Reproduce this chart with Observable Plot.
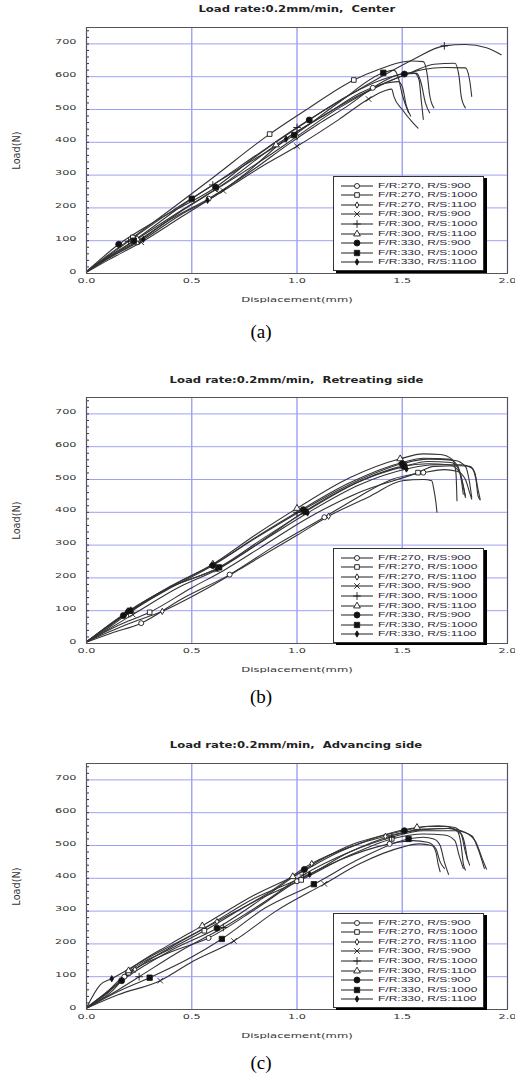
<!DOCTYPE html>
<html><head><meta charset="utf-8">
<script src="https://cdn.jsdelivr.net/npm/d3@7"></script>
<script src="https://cdn.jsdelivr.net/npm/@observablehq/plot@0.6"></script>
<style>
body{margin:0;background:#fff;}
#wrap{position:relative;width:515px;height:1077px;background:#fff;overflow:hidden;font-family:"DejaVu Sans",sans-serif;}
.title{position:absolute;left:86px;width:421px;text-align:center;font-family:"DejaVu Sans";font-weight:bold;font-size:8px;color:#222;line-height:10px;white-space:pre;}
.title span{display:inline-block;transform:scaleX(1.45);}
.cap{position:absolute;left:0;width:522px;text-align:center;font-family:"Liberation Serif";font-size:19px;color:#000;line-height:20px;}
.svgbox{position:absolute;left:0;}
.legend{position:absolute;left:333px;width:149px;height:93px;border:1px solid #333;background:#fff;box-shadow:3px 2px 0 #000;}
.row{position:absolute;left:0;width:149px;height:10px;}
.row svg{position:absolute;left:0;top:0;}
.row span{position:absolute;left:44px;top:0;font-family:"Liberation Sans";font-size:7.5px;white-space:nowrap;transform:scaleX(1.6);transform-origin:left center;color:#2a2636;line-height:10px;}
</style></head><body><div id="wrap"></div><script>
// ---------- ticks & labels ----------
const xTicks = [0, 0.5, 1.0, 1.5, 2.0];
const yTicks = [0, 100, 200, 300, 400, 500, 600, 700];
const yMinorTicks = [0,20,40,60,80,100,120,140,160,180,200,220,240,260,280,300,320,340,360,380,400,420,440,460,480,500,520,540,560,580,600,620,640,660,680,700,720,740];
const xAxisLabel = "Displacement(mm)";
const yAxisLabel = "Load(N)";
const legendLabels = ["F/R:270, R/S:900","F/R:270, R/S:1000","F/R:270, R/S:1100","F/R:300, R/S:900","F/R:300, R/S:1000","F/R:300, R/S:1100","F/R:330, R/S:900","F/R:330, R/S:1000","F/R:330, R/S:1100"];
const panelTitles = ["Load rate:0.2mm/min,  Center","Load rate:0.2mm/min,  Retreating side","Load rate:0.2mm/min,  Advancing side"];
const panelCaptions = ["(a)","(b)","(c)"];

// ---------- data: [displacement mm, load N, marker flag] ----------
// (a) Center
const center_270_900  = [[0,5],[0.1,45],[0.24,95,1],[0.4,165],[0.58,228,1],[0.8,320],[0.95,390],[1.1,455],[1.25,515],[1.36,566,1],[1.45,598],[1.52,612],[1.57,610],[1.59,580],[1.61,520],[1.63,490]];
const center_270_1000 = [[0,6],[0.1,55],[0.22,110,1],[0.4,195],[0.6,292],[0.87,425,1],[1.05,502],[1.27,590,1],[1.4,625],[1.5,645],[1.55,648],[1.6,646],[1.62,600],[1.63,545],[1.65,505]];
const center_270_1100 = [[0,5],[0.1,48],[0.25,102,1],[0.45,190],[0.62,258,1],[0.85,352],[1.0,418,1],[1.2,505],[1.4,575],[1.55,615],[1.65,638],[1.75,641],[1.77,600],[1.78,540],[1.8,505]];
const center_300_900  = [[0,4],[0.1,40],[0.26,95,1],[0.45,172],[0.65,252,1],[0.85,333],[1.0,388,1],[1.2,470],[1.34,532,1],[1.42,558],[1.45,562],[1.46,540],[1.5,500],[1.55,460],[1.575,443]];
const center_300_1000 = [[0,5],[0.1,52],[0.2,98,1],[0.4,188],[0.6,270,1],[0.8,358],[1.0,445,1],[1.2,525],[1.4,600],[1.55,652],[1.7,694,1],[1.8,698],[1.9,688],[1.97,667]];
const center_300_1100 = [[0,6],[0.12,58],[0.24,105,1],[0.45,192],[0.65,272],[0.9,392,1],[1.1,472],[1.3,545],[1.45,590],[1.6,622],[1.7,628],[1.8,627],[1.82,590],[1.83,540]];
const center_330_900  = [[0,6],[0.153,89,1],[0.35,168],[0.614,263,1],[0.8,355],[1.058,468,1],[1.25,545],[1.4,590],[1.51,608,1],[1.56,610],[1.58,590],[1.59,530],[1.6,470]];
const center_330_1000 = [[0,5],[0.225,100,1],[0.5,228,1],[0.75,330],[0.987,422,1],[1.2,522],[1.41,612,1],[1.46,620],[1.48,600],[1.5,545],[1.53,490]];
const center_330_1100 = [[0,5],[0.1,45],[0.27,104,1],[0.45,180],[0.575,223,1],[0.75,302],[0.948,410,1],[1.15,490],[1.3,550],[1.42,580],[1.48,585],[1.5,570],[1.52,510],[1.54,480]];

// (b) Retreating side
const retreat_270_900  = [[0,4],[0.12,32],[0.26,62,1],[0.45,135],[0.68,210,1],[0.9,300],[1.13,385,1],[1.3,450],[1.45,500],[1.6,521,1],[1.7,530],[1.76,525],[1.8,500],[1.82,460],[1.83,440]];
const retreat_270_1000 = [[0,5],[0.15,55],[0.3,95,1],[0.5,170],[0.65,222],[0.85,302],[1.05,382],[1.3,462],[1.575,521,1],[1.65,540],[1.78,542],[1.82,540],[1.845,520],[1.86,470],[1.87,440]];
const retreat_270_1100 = [[0,5],[0.2,60],[0.36,98,1],[0.55,160],[0.75,235],[1.0,330],[1.15,388,1],[1.35,450],[1.5,496],[1.6,500],[1.64,496],[1.65,470],[1.66,430],[1.665,400]];
const retreat_300_900  = [[0,5],[0.1,42],[0.22,88,1],[0.45,175],[0.62,225,1],[0.85,320],[1.03,400,1],[1.25,480],[1.5,540,1],[1.62,548],[1.72,545],[1.77,525],[1.79,480],[1.8,445]];
const retreat_300_1000 = [[0,6],[0.12,55],[0.2,92,1],[0.42,180],[0.6,240,1],[0.82,330],[1.0,400,1],[1.25,490],[1.5,552,1],[1.6,565],[1.72,562],[1.76,545],[1.78,500],[1.79,455]];
const retreat_300_1100 = [[0,6],[0.1,50],[0.21,100,1],[0.4,175],[0.6,242,1],[0.8,330],[1.0,412,1],[1.25,505],[1.49,563,1],[1.6,578],[1.68,576],[1.74,560],[1.755,520],[1.76,435]];
const retreat_330_900  = [[0,5],[0.175,85,1],[0.4,170],[0.6,238,1],[0.8,320],[1.03,408,1],[1.25,485],[1.5,548,1],[1.62,562],[1.75,558],[1.8,540],[1.82,490],[1.83,445]];
const retreat_330_1000 = [[0,5],[0.206,100,1],[0.4,172],[0.63,232,1],[0.85,325],[1.04,402,1],[1.3,495],[1.51,540,1],[1.62,555],[1.73,552],[1.77,530],[1.79,480],[1.8,450]];
const retreat_330_1100 = [[0,5],[0.19,95,1],[0.4,172],[0.62,228,1],[0.85,318],[1.05,398,1],[1.3,485],[1.52,532,1],[1.65,545],[1.78,545],[1.83,535],[1.85,500],[1.86,450],[1.87,438]];

// (c) Advancing side
const advance_270_900  = [[0,5],[0.1,50],[0.18,100,1],[0.4,175],[0.58,218,1],[0.8,305],[1.0,391,1],[1.2,455],[1.44,505,1],[1.55,515],[1.62,510],[1.66,490],[1.68,450],[1.7,430]];
const advance_270_1000 = [[0,5],[0.12,55],[0.2,112,1],[0.4,185],[0.56,240,1],[0.8,330],[1.02,395,1],[1.25,470],[1.45,520,1],[1.6,535],[1.7,532],[1.75,515],[1.77,470],[1.79,430]];
const advance_270_1100 = [[0,5],[0.1,52],[0.23,122,1],[0.4,190],[0.62,268,1],[0.85,350],[1.07,445,1],[1.25,495],[1.42,528,1],[1.6,548],[1.72,552],[1.78,535],[1.8,495],[1.81,455]];
const advance_300_900  = [[0,4],[0.15,45],[0.35,88,1],[0.5,145],[0.7,209,1],[0.9,300],[1.13,383,1],[1.3,445],[1.5,495],[1.58,505],[1.64,500],[1.66,480],[1.67,445],[1.68,420]];
const advance_300_1000 = [[0,5],[0.12,48],[0.25,100,1],[0.45,180],[0.65,250,1],[0.85,330],[1.03,410,1],[1.25,480],[1.45,525,1],[1.6,545],[1.75,545],[1.83,530],[1.86,490],[1.89,430]];
const advance_300_1100 = [[0,6],[0.1,55],[0.2,118,1],[0.4,200],[0.55,255,1],[0.8,350],[0.98,405,1],[1.2,480],[1.4,530],[1.57,555,1],[1.67,560],[1.75,555],[1.78,535],[1.8,480],[1.82,440]];
const advance_330_900  = [[0,5],[0.05,30],[0.167,88,1],[0.4,180],[0.62,248,1],[0.85,345],[1.035,427,1],[1.25,500],[1.51,545,1],[1.62,558],[1.7,558],[1.76,545],[1.78,500],[1.79,445],[1.8,425]];
const advance_330_1000 = [[0,4],[0.15,55],[0.3,97,1],[0.5,160],[0.643,215,1],[0.85,310],[1.08,382,1],[1.3,460],[1.53,520,1],[1.6,525],[1.65,520],[1.68,500],[1.7,450],[1.72,412]];
const advance_330_1100 = [[0,5],[0.065,75],[0.12,94,1],[0.3,160],[0.55,245],[0.8,340],[1.06,412,1],[1.25,480],[1.45,530],[1.6,550],[1.72,552],[1.8,540],[1.85,510],[1.88,460],[1.9,428]];

const centerSeries  = [center_270_900, center_270_1000, center_270_1100, center_300_900, center_300_1000, center_300_1100, center_330_900, center_330_1000, center_330_1100];
const retreatSeries = [retreat_270_900, retreat_270_1000, retreat_270_1100, retreat_300_900, retreat_300_1000, retreat_300_1100, retreat_330_900, retreat_330_1000, retreat_330_1100];
const advanceSeries = [advance_270_900, advance_270_1000, advance_270_1100, advance_300_900, advance_300_1000, advance_300_1100, advance_330_900, advance_330_1000, advance_330_1100];

// ---------- styles ----------
const markerStyles = [
  {symbol:"circle",   fill:"white", r:2.5},
  {symbol:"square",   fill:"white", r:2.6},
  {symbol:"diamond",  fill:"white", r:1.9},
  {symbol:"times",    fill:"none",  r:2.6},
  {symbol:"plus",     fill:"none",  r:2.6},
  {symbol:"triangle", fill:"white", r:2.5},
  {symbol:"circle",   fill:"#111",  r:3},
  {symbol:"square",   fill:"#111",  r:3},
  {symbol:"diamond",  fill:"#111",  r:1.9}
];
const d3Symbols = {circle:d3.symbolCircle, square:d3.symbolSquare, diamond:d3.symbolDiamond, times:d3.symbolTimes, plus:d3.symbolPlus, triangle:d3.symbolTriangle};

const layout = [
  {titleTop:5,   svgTop:20,  legendTop:176, capTop:322},
  {titleTop:376, svgTop:390, legendTop:548, capTop:687},
  {titleTop:741, svgTop:756, legendTop:913, capTop:1053}
];

const wrap = document.getElementById("wrap");

function stretchText(t, sx, sy) {
  const tr = t.getAttribute("transform") || "";
  const x = t.getAttribute("x"), y = t.getAttribute("y");
  let extra = "";
  if (x !== null || y !== null) {
    extra = ` translate(${+x || 0},${+y || 0})`;
    t.removeAttribute("x"); t.removeAttribute("y");
  }
  t.setAttribute("transform", `${tr}${extra} scale(${sx},${sy})`);
}
function stripArrow(t, label) {
  const tn = t.querySelector("tspan") || t;
  if (tn.textContent.indexOf(label) >= 0) tn.textContent = label;
}

function makePanel(series, idx) {
  const L = layout[idx];
  const title = document.createElement("div");
  title.className = "title";
  title.style.top = L.titleTop + "px";
  const ts = document.createElement("span");
  ts.textContent = panelTitles[idx];
  title.appendChild(ts);
  wrap.appendChild(title);

  const marks = [
    Plot.gridX(xTicks, {stroke:"#9ea0f4", strokeOpacity:1, strokeWidth:1.4}),
    Plot.gridY(yTicks, {stroke:"#9ea0f4", strokeOpacity:1, strokeWidth:1}),
    Plot.axisX(xTicks, {tickSize:0, tickPadding:9, tickFormat:d3.format(".1f"), label:xAxisLabel, labelArrow:"none", labelAnchor:"center", labelOffset:28, fill:"#333"}),
    Plot.axisY(yTicks, {tickSize:0, tickPadding:10, label:yAxisLabel, labelArrow:"none", labelAnchor:"center", labelOffset:67, fill:"#333"}),
    Plot.axisY(yMinorTicks, {tickSize:3, dx:3, tickFormat:() => "", label:null, stroke:"#333"})
  ];
  series.forEach((s) => {
    marks.push(Plot.line(s, {x:d => d[0], y:d => d[1], curve:"monotone-x", stroke:"#333", strokeWidth:1.1}));
  });
  series.forEach((s, i) => {
    const st = markerStyles[i];
    marks.push(Plot.dot(s.filter(d => d[2]), {x:d => d[0], y:d => d[1], symbol:st.symbol, r:st.r, fill:st.fill, stroke:"#1a1a1a", strokeWidth:0.9}));
  });
  marks.push(Plot.frame({stroke:"#555"}));

  const svg = Plot.plot({
    width:515, height:286,
    marginLeft:86, marginRight:8, marginTop:7, marginBottom:33,
    style:{fontFamily:"DejaVu Sans", fontSize:"7.5px", color:"#333", background:"white"},
    x:{domain:[0,2]},
    y:{domain:[0,750]},
    marks
  });
  svg.querySelectorAll('g[aria-label="x-axis label"] text').forEach(t => stripArrow(t, xAxisLabel));
  svg.querySelectorAll('g[aria-label="y-axis label"] text').forEach(t => stripArrow(t, yAxisLabel));
  svg.querySelectorAll('g[aria-label="x-axis tick label"] text, g[aria-label="y-axis tick label"] text').forEach(t => stretchText(t, 1.5, 1));
  svg.querySelectorAll('g[aria-label="x-axis label"] text').forEach(t => stretchText(t, 1.55, 1));
  svg.querySelectorAll('g[aria-label="y-axis label"] text').forEach(t => stretchText(t, 1.3, 1.4));
  const box = document.createElement("div");
  box.className = "svgbox";
  box.style.top = L.svgTop + "px";
  box.appendChild(svg);
  wrap.appendChild(box);

  // legend
  const lg = document.createElement("div");
  lg.className = "legend";
  lg.style.top = L.legendTop + "px";
  legendLabels.forEach((lab, i) => {
    const row = document.createElement("div");
    row.className = "row";
    row.style.top = (3.5 + i * 9.6) + "px";
    const st = markerStyles[i];
    const s = d3.create("svg").attr("width", 44).attr("height", 10);
    s.append("line").attr("x1", 7).attr("x2", 39).attr("y1", 5).attr("y2", 5).attr("stroke", "#333").attr("stroke-width", 1.1);
    s.append("path").attr("transform", "translate(23,5)")
      .attr("d", d3.symbol(d3Symbols[st.symbol], Math.PI * st.r * st.r)())
      .attr("fill", st.fill).attr("stroke", "#1a1a1a").attr("stroke-width", 0.9);
    row.appendChild(s.node());
    const sp = document.createElement("span");
    sp.textContent = lab;
    row.appendChild(sp);
    lg.appendChild(row);
  });
  wrap.appendChild(lg);

  const cap = document.createElement("div");
  cap.className = "cap";
  cap.style.top = L.capTop + "px";
  cap.textContent = panelCaptions[idx];
  wrap.appendChild(cap);
}

makePanel(centerSeries, 0);
makePanel(retreatSeries, 1);
makePanel(advanceSeries, 2);
</script></body></html>
